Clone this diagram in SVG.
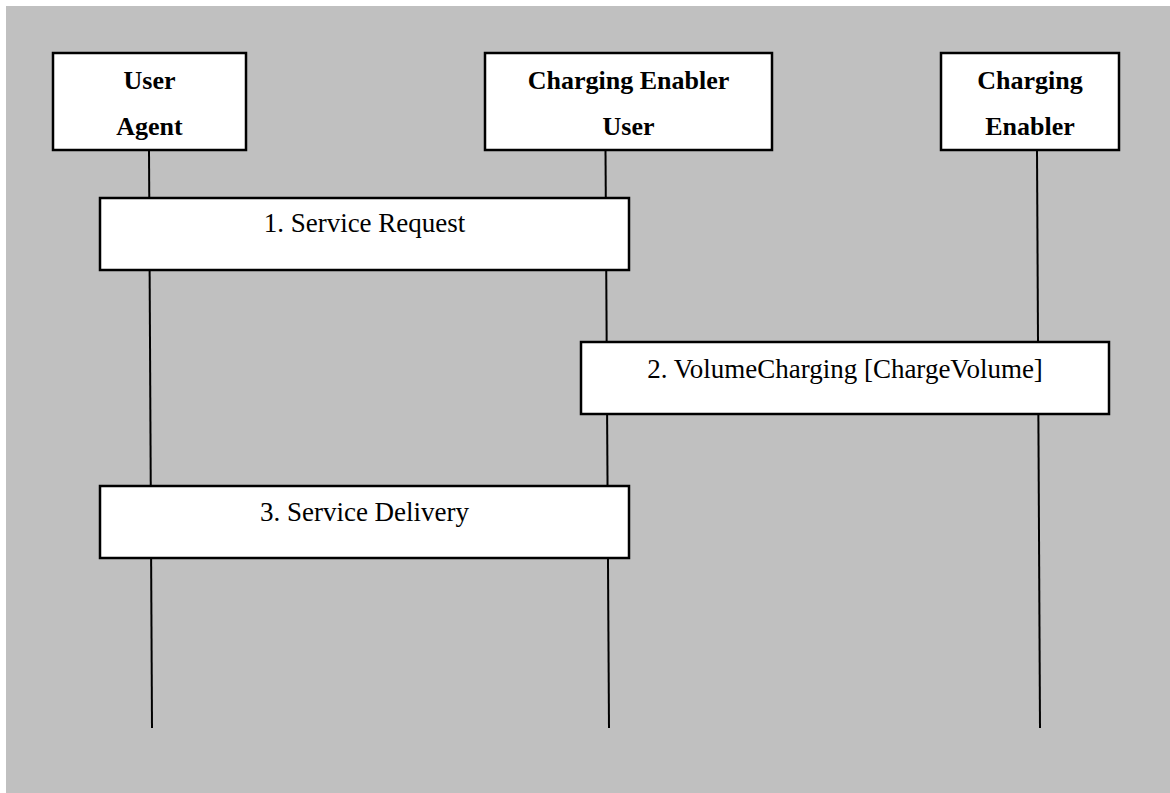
<svg xmlns="http://www.w3.org/2000/svg" width="1170" height="793" viewBox="0 0 1170 793">
<style>
.box{fill:#fff;stroke:#000;stroke-width:2.5}
.life{stroke:#000;stroke-width:2;fill:none}
.hdr{font-family:"Liberation Serif","Times New Roman",serif;font-weight:bold;font-size:26px;text-anchor:middle;fill:#000}
.msg{font-family:"Liberation Serif","Times New Roman",serif;font-size:27px;text-anchor:middle;fill:#000}
</style>
<rect x="0" y="0" width="1170" height="793" fill="#fff"/>
<rect x="6" y="6" width="1164" height="787" fill="#c0c0c0"/>
<g id="connectors">
<line class="life" x1="149" y1="150" x2="152" y2="728"/>
<line class="life" x1="605.5" y1="150" x2="609" y2="728"/>
<line class="life" x1="1037" y1="150" x2="1040" y2="728"/>
</g>
<g id="user-agent">
<rect class="box" x="53" y="53" width="193" height="97"/>
<text class="hdr" x="149.5" y="89">User</text>
<text class="hdr" x="149.5" y="135">Agent</text>
</g>
<g id="charging-enabler-user">
<rect class="box" x="485" y="53" width="287" height="97"/>
<text class="hdr" x="628.5" y="89">Charging Enabler</text>
<text class="hdr" x="628.5" y="135">User</text>
</g>
<g id="charging-enabler">
<rect class="box" x="941" y="53" width="178" height="97"/>
<text class="hdr" x="1030" y="89">Charging</text>
<text class="hdr" x="1030" y="135">Enabler</text>
</g>
<g id="msg1">
<rect class="box" x="100" y="198" width="529" height="72"/>
<text class="msg" x="364.5" y="232">1. Service Request</text>
</g>
<g id="msg2">
<rect class="box" x="581" y="342" width="528" height="72"/>
<text class="msg" x="845" y="378">2. VolumeCharging [ChargeVolume]</text>
</g>
<g id="msg3">
<rect class="box" x="100" y="486" width="529" height="72"/>
<text class="msg" x="364.5" y="521">3. Service Delivery</text>
</g>
</svg>
